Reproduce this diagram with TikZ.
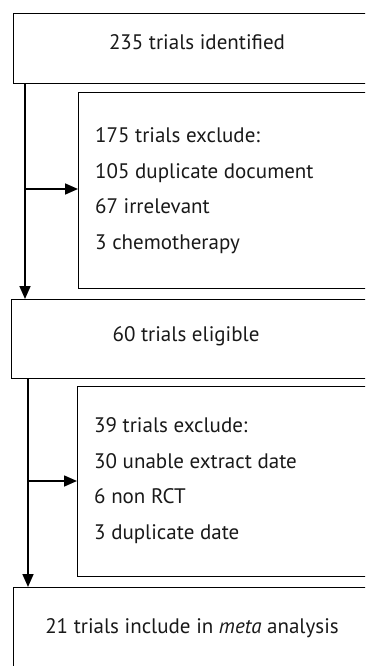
\documentclass[tikz,border=0pt]{standalone}
\usepackage{fontspec}
\setmainfont{PT Sans}
\usetikzlibrary{arrows.meta}
\begin{document}
\begin{tikzpicture}[x=1pt, y=-1pt, line join=miter,
    box/.style={draw, line width=1.3pt, anchor=north west, inner sep=0pt},
    txt/.style={font=\fontsize{21}{24}\selectfont, text=black!90, inner sep=0pt},
    list/.style={txt, anchor=base west, align=left, font=\fontsize{21}{35.5}\selectfont},
    flow/.style={line width=1.6pt, -{Triangle[length=13pt, width=11pt]}}]
    % Fix the page size and cut off the boxes at the right edge
    \useasboundingbox (0,0) rectangle (365,666);
    \clip (0,0) rectangle (365,666);

    % Define the boxes
    \node[box, minimum width=370pt, minimum height=70pt] (ident) at (13,13) {};
    \node[box, minimum width=300pt, minimum height=196pt] (excl1) at (78,92) {};
    \node[box, minimum width=370pt, minimum height=79pt] (elig) at (11,299) {};
    \node[box, minimum width=300pt, minimum height=190pt] (excl2) at (77,386) {};
    \node[box, minimum width=370pt, minimum height=100pt] (incl) at (13,587) {};

    % Text in the boxes (base of a list is its last line)
    \node[txt, anchor=base] (identtxt) at (197,50) {235 trials identified};
    \node[list] (excl1txt) at (95,249) {175 trials exclude:\\105 duplicate document\\67 irrelevant\\3 chemotherapy};
    \node[txt, anchor=base] (eligtxt) at (186,341) {60 trials eligible};
    \node[list] (excl2txt) at (94,539) {39 trials exclude:\\30 unable extract date\\6 non RCT\\3 duplicate date};
    \node[txt, anchor=base] (incltxt) at (192,633) {21 trials include in \textit{meta} analysis};

    % Branch points on the two trunks
    \coordinate (fork1) at (25,189);
    \coordinate (fork2) at (28,481);

    % Draw the trunks
    \draw[flow] (ident.south -| fork1) -- (elig.north -| fork1);
    \draw[flow] (elig.south -| fork2) -- (incl.north -| fork2);

    % Draw the branches to the exclusion boxes
    \draw[flow] (fork1) -- (fork1 -| excl1.west);
    \draw[flow] (fork2) -- (fork2 -| excl2.west);
\end{tikzpicture}
\end{document}
